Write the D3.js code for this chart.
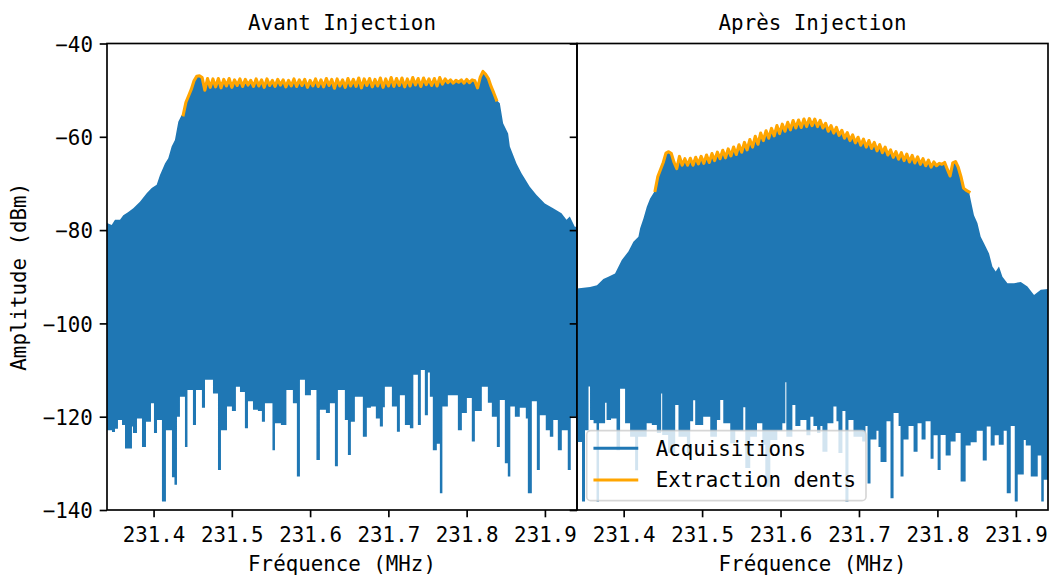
<!DOCTYPE html>
<html>
<head>
<meta charset="utf-8">
<script src="https://cdn.jsdelivr.net/npm/d3@7/dist/d3.min.js"></script>
<style>
  body { margin: 0; background: #fff; }
  svg text { font-family: "DejaVu Sans Mono", monospace; fill: #000; }
</style>
</head>
<body>
<script>
// ---- data ----
var freqDomain = [231.3405, 231.941];
var xTicks = [231.4, 231.5, 231.6, 231.7, 231.8, 231.9];
var yTicks = [-140, -120, -100, -80, -60, -40];
var dentStep = 0.00345; // spacing of the comb teeth (MHz)

// Avant injection : flancs du spectre [MHz, dBm]
var avantFlancG = [[231.3405,-78.5],[231.3465,-78.9],[231.3507,-77.8],[231.3571,-77.8],[231.3613,-76.8],[231.3673,-76.2],
  [231.3741,-75.3],[231.3826,-73.9],[231.3912,-72.1],[231.3976,-71.0],[231.4040,-70.3],[231.4082,-68.2],[231.4146,-65.7],
  [231.4188,-64.6],[231.4231,-62.1],[231.4273,-60.7],[231.4316,-56.8],[231.4359,-55.3]];
var avantFlancD = [[231.8424,-52.8],[231.8466,-57.1],[231.8530,-59.3],[231.8552,-62.1],[231.8637,-65.7],[231.8701,-67.8],
  [231.8807,-70.7],[231.8893,-72.5],[231.8999,-74.3],[231.9105,-75.3],[231.9212,-76.4],[231.9276,-77.8],[231.9318,-77.1],
  [231.9382,-79.3],[231.9410,-79.3]];
// extraction des dents (sommets), premiere dent a avantDentsF0
var avantDentsF0 = 231.4379;
var avantDents = [-55.3,-52.6,-51.2,-49.8,-48.0,-47.0,-46.9,-47.3,-50.0,-47.5,-49.4,
  -47.6,-49.3,-47.5,-49.5,-47.7,-49.1,-47.5,-49.4,-47.8,-49.0,
  -47.6,-49.2,-47.7,-48.9,-47.9,-49.2,-47.6,-49.1,-47.8,-49.4,
  -47.6,-49.0,-47.9,-49.2,-47.7,-48.9,-47.8,-49.3,-47.9,-49.1,
  -47.6,-49.2,-47.8,-49.0,-47.7,-49.4,-47.9,-49.1,-47.6,-49.2,
  -47.8,-49.3,-47.5,-49.0,-47.7,-49.6,-47.6,-49.1,-47.8,-49.4,
  -47.5,-49.1,-47.7,-49.2,-47.4,-49.5,-47.6,-49.0,-47.5,-49.3,
  -47.7,-49.1,-47.4,-49.4,-47.6,-49.1,-47.3,-49.2,-47.5,-49.0,
  -47.4,-49.3,-47.6,-49.1,-47.3,-48.9,-47.5,-49.2,-47.4,-48.8,
  -47.6,-49.0,-47.5,-49.1,-47.3,-48.7,-47.6,-48.4,-47.8,-48.5,
  -47.9,-48.3,-47.8,-48.5,-47.7,-48.4,
  -47.8,-48.0,-49.5,-47.2,-46.0,-46.6,-47.5,-49.2,-50.6,-52.1];
// bas du spectre : [debut de colonne MHz, minimum dBm]
var avantBas = [[231.3405,-122.9],[231.3469,-123.3],[231.3507,-122.6],[231.3545,-120.7],[231.3597,-121.8],[231.3635,-126.8],
  [231.3724,-122.1],[231.3737,-123.5],[231.3788,-120.4],[231.3852,-126.5],[231.3903,-121.1],[231.3967,-117.1],[231.4005,-123.5],
  [231.4044,-120.7],[231.4107,-138.2],[231.4158,-122.9],[231.4235,-133.0],[231.4267,-134.6],[231.4299,-120.0],[231.4337,-115.7],
  [231.4401,-126.5],[231.4433,-114.3],[231.4503,-121.8],[231.4542,-114.3],[231.4618,-118.1],[231.4657,-112.1],[231.4759,-115.0],
  [231.4823,-131.4],[231.4861,-122.9],[231.4938,-117.8],[231.5001,-118.8],[231.5052,-113.6],[231.5104,-114.7],[231.5167,-122.5],
  [231.5206,-116.7],[231.5270,-118.5],[231.5333,-118.8],[231.5384,-121.1],[231.5423,-117.1],[231.5519,-127.2],[231.5551,-121.4],
  [231.5627,-121.8],[231.5697,-114.3],[231.5780,-117.1],[231.5831,-132.8],[231.5870,-112.1],[231.5934,-115.4],[231.6010,-114.3],
  [231.6081,-129.3],[231.6125,-118.5],[231.6202,-119.2],[231.6253,-117.1],[231.6317,-130.6],[231.6355,-114.3],[231.6444,-120.7],
  [231.6483,-128.2],[231.6521,-121.1],[231.6572,-115.7],[231.6674,-124.3],[231.6725,-118.1],[231.6777,-117.8],[231.6840,-120.4],
  [231.6891,-122.1],[231.6930,-118.0],[231.6955,-113.6],[231.7045,-117.8],[231.7109,-123.2],[231.7147,-115.4],[231.7211,-121.8],
  [231.7275,-122.5],[231.7319,-111.0],[231.7377,-121.8],[231.7415,-110.0],[231.7466,-119.7],[231.7505,-110.5],[231.7530,-115.7],
  [231.7568,-127.2],[231.7619,-125.8],[231.7658,-136.4],[231.7690,-117.8],[231.7760,-115.4],[231.7888,-122.9],[231.7939,-119.2],
  [231.8003,-116.0],[231.8066,-125.3],[231.8105,-118.8],[231.8194,-113.6],[231.8271,-117.0],[231.8322,-120.0],[231.8386,-126.5],
  [231.8424,-116.4],[231.8488,-130.0],[231.8526,-132.8],[231.8558,-117.8],[231.8616,-120.0],[231.8679,-118.1],[231.8756,-120.4],
  [231.8782,-136.4],[231.8833,-116.7],[231.8897,-131.4],[231.8935,-119.7],[231.9011,-122.9],[231.9063,-124.3],[231.9107,-120.7],
  [231.9165,-127.2],[231.9216,-122.9],[231.9292,-131.4],[231.9330,-120.0]];

// Apres injection
var apresFlancG = [[231.3405,-92.5],[231.3571,-92.2],[231.3660,-91.8],[231.3741,-90.5],[231.3805,-90.0],[231.3890,-89.3],
  [231.3976,-86.4],[231.4060,-84.6],[231.4124,-82.5],[231.4188,-81.4],[231.4210,-79.6],[231.4252,-77.5],[231.4295,-75.0],
  [231.4337,-73.2],[231.4379,-72.1]];
var apresFlancD = [[231.8424,-73.5],[231.8466,-76.8],[231.8510,-78.5],[231.8552,-81.4],[231.8594,-82.8],[231.8658,-85.0],
  [231.8701,-87.8],[231.8743,-88.9],[231.8785,-87.8],[231.8829,-90.0],[231.8893,-91.4],[231.8977,-91.4],[231.9063,-91.1],
  [231.9148,-92.1],[231.9232,-93.9],[231.9318,-92.8],[231.9420,-92.6]];
var apresDentsF0 = 231.4401;
var apresDents = [-71.5,-68.5,-67.0,-65.5,-63.5,-63.2,-63.6,-65.5,-66.8,-64.2,-66.1,-64.7,-66.1,
  -64.6,-66.1,-64.4,-65.8,-64.2,-65.7,-63.9,-65.5,-63.6,-65.1,
  -63.3,-64.7,-62.9,-64.5,-62.6,-64.1,-62.2,-63.8,-61.7,-63.3,
  -61.2,-62.8,-60.6,-62.2,-59.9,-61.6,-59.2,-60.8,-58.7,-60.3,
  -58.2,-59.8,-57.6,-59.3,-57.3,-58.8,-56.9,-58.5,-56.5,-58.1,
  -56.4,-58.0,-56.2,-57.8,-56.1,-57.6,-56.2,-57.8,-56.5,-58.1,
  -57.1,-58.8,-57.6,-59.2,-58.0,-59.7,-58.6,-60.3,-59.1,-60.8,
  -59.6,-61.3,-60.1,-61.8,-60.5,-62.2,-60.8,-62.5,-61.2,-63.0,
  -61.7,-63.4,-62.2,-63.9,-62.8,-64.4,-63.2,-64.8,-63.4,-65.1,
  -63.7,-65.4,-64.0,-65.6,-64.3,-65.9,-64.7,-66.2,-65.0,-66.5,
  -65.4,-66.2,-65.7,-65.9,-65.5,-67.0,-68.4,-65.6,-65.3,-66.5,-68.5,-71.0,-71.5,-71.8];
var apresBas = [[231.3405,-125.4],[231.3469,-138.2],[231.3507,-122.9],[231.3552,-113.5],[231.3571,-120.7],[231.3616,-121.4],
  [231.3654,-138.2],[231.3686,-121.4],[231.3763,-117.0],[231.3782,-120.7],[231.3839,-120.4],[231.3909,-127.2],[231.3954,-114.0],
  [231.4018,-121.4],[231.4082,-124.3],[231.4146,-131.5],[231.4184,-124.3],[231.4293,-121.4],[231.4359,-121.8],[231.4423,-123.5],
  [231.4478,-115.0],[231.4491,-123.9],[231.4567,-127.8],[231.4657,-117.5],[231.4699,-124.3],[231.4806,-127.8],[231.4848,-121.0],
  [231.4886,-116.5],[231.4912,-121.8],[231.5014,-120.0],[231.5104,-124.3],[231.5189,-120.7],[231.5231,-116.4],[231.5270,-121.4],
  [231.5359,-125.7],[231.5423,-123.0],[231.5525,-118.0],[231.5551,-131.0],[231.5614,-124.3],[231.5700,-121.4],[231.5768,-126.0],
  [231.5806,-135.0],[231.5870,-125.0],[231.5959,-123.0],[231.6023,-121.4],[231.6061,-112.6],[231.6074,-124.3],[231.6151,-117.5],
  [231.6189,-122.0],[231.6253,-120.7],[231.6330,-124.0],[231.6381,-120.0],[231.6419,-122.0],[231.6466,-123.5],[231.6508,-122.0],
  [231.6534,-127.5],[231.6598,-121.4],[231.6674,-117.8],[231.6713,-121.0],[231.6738,-127.8],[231.6789,-118.8],[231.6827,-138.2],
  [231.6866,-120.7],[231.6930,-124.3],[231.7041,-125.3],[231.7083,-122.0],[231.7109,-134.3],[231.7147,-124.9],[231.7223,-123.0],
  [231.7249,-126.5],[231.7275,-129.7],[231.7351,-121.0],[231.7402,-137.5],[231.7441,-119.2],[231.7505,-122.0],[231.7530,-132.8],
  [231.7568,-124.9],[231.7632,-122.0],[231.7696,-127.5],[231.7747,-121.4],[231.7798,-124.9],[231.7849,-121.0],[231.7913,-129.0],
  [231.7951,-124.0],[231.8003,-131.4],[231.8041,-123.9],[231.8105,-128.3],[231.8169,-125.3],[231.8232,-123.5],[231.8296,-133.9],
  [231.8360,-126.2],[231.8424,-125.5],[231.8501,-123.0],[231.8578,-129.4],[231.8629,-122.1],[231.8679,-126.2],[231.8730,-124.0],
  [231.8782,-126.0],[231.8845,-123.0],[231.8884,-136.4],[231.8935,-122.0],[231.8986,-138.2],[231.9024,-132.4],[231.9101,-125.0],
  [231.9127,-126.2],[231.9190,-132.8],[231.9279,-128.3],[231.9324,-138.2],[231.9356,-133.5]];

var titles = ['Avant Injection', 'Après Injection'];
var legendLabels = ['Acquisitions', 'Extraction dents'];

// ---- layout ----
var W = 1053, H = 575;
var fs = 20.8, tickLen = 7.3, spineW = 1.67;
var plotTop = 43.5, plotBottom = 510;
var blue = '#1f77b4', orange = '#ffa500';
var floorDb = -110;

var svg = d3.select('body').append('svg').attr('width', W).attr('height', H);
var defs = svg.append('defs');

var y = d3.scaleLinear().domain([-140, -40]).range([plotBottom, plotTop]);

function panel(idx, x0, x1, flancG, dentsF0, dents, flancD, bas, withLabels) {
  var x = d3.scaleLinear().domain(freqDomain).range([x0, x1]);
  var g = svg.append('g');

  defs.append('clipPath').attr('id', 'clip' + idx)
    .append('rect').attr('x', x0).attr('y', plotTop).attr('width', x1 - x0).attr('height', plotBottom - plotTop);
  var body = g.append('g').attr('clip-path', 'url(#clip' + idx + ')');

  var dentPts = dents.map(function(v, i) { return [dentsF0 + i * dentStep, v]; });
  var topPts = flancG.concat(dentPts).concat(flancD);

  // corps du spectre (enveloppe haute jusqu'au plancher)
  body.append('path').datum(topPts)
    .attr('d', d3.area().x(function(d) { return x(d[0]); }).y0(y(floorDb)).y1(function(d) { return y(d[1]); }))
    .attr('fill', blue);

  // bas du spectre en marches (minima), un seul chemin
  var basPts = bas.concat([[freqDomain[1] + 0.01, bas[bas.length - 1][1]]]);
  body.append('path').datum(basPts)
    .attr('d', d3.area().curve(d3.curveStepAfter)
      .x(function(d) { return x(d[0]); })
      .y0(y(floorDb) - 2)
      .y1(function(d) { return y(d[1]); }))
    .attr('fill', blue);

  // extraction des dents
  body.append('path').datum(dentPts)
    .attr('d', d3.line().x(function(d) { return x(d[0]); }).y(function(d) { return y(d[1]); }))
    .attr('fill', 'none').attr('stroke', orange).attr('stroke-width', 3.1)
    .attr('stroke-linejoin', 'round').attr('stroke-linecap', 'square');

  // axes
  var xAxis = g.append('g').attr('transform', 'translate(0,' + plotBottom + ')')
    .call(d3.axisBottom(x).tickValues(xTicks).tickSize(tickLen).tickPadding(9.5).tickFormat(d3.format('.1f')));
  var yAxis = g.append('g').attr('transform', 'translate(' + x0 + ',0)')
    .call(d3.axisLeft(y).tickValues(yTicks).tickSize(tickLen).tickPadding(6.8)
      .tickFormat(withLabels ? d3.format('d') : function() { return ''; }));
  [xAxis, yAxis].forEach(function(a) {
    a.select('.domain').remove();
    a.selectAll('line').attr('stroke', '#000').attr('stroke-width', spineW);
    a.selectAll('text').attr('font-size', fs).attr('font-family', '"DejaVu Sans Mono", monospace');
  });
  yAxis.selectAll('text').attr('dy', '0.37em');

  // cadre
  g.append('rect').attr('x', x0).attr('y', plotTop).attr('width', x1 - x0).attr('height', plotBottom - plotTop)
    .attr('fill', 'none').attr('stroke', '#000').attr('stroke-width', spineW);

  // titre + label x
  g.append('text').attr('x', (x0 + x1) / 2).attr('y', 30).attr('text-anchor', 'middle')
    .attr('font-size', fs).text(titles[idx]);
  g.append('text').attr('x', (x0 + x1) / 2).attr('y', 571).attr('text-anchor', 'middle')
    .attr('font-size', fs).text('Fréquence (MHz)');
  return g;
}

panel(0, 107, 577, avantFlancG, avantDentsF0, avantDents, avantFlancD, avantBas, true);
panel(1, 577, 1048, apresFlancG, apresDentsF0, apresDents, apresFlancD, apresBas, false);

// label y
svg.append('text').attr('transform', 'translate(26,' + ((plotTop + plotBottom) / 2) + ') rotate(-90)')
  .attr('text-anchor', 'middle').attr('font-size', fs).text('Amplitude (dBm)');

// legende
var leg = svg.append('g').attr('transform', 'translate(586.7,430.7)');
leg.append('rect').attr('width', 279.3).attr('height', 70).attr('rx', 4).attr('ry', 4)
  .attr('fill', '#fff').attr('fill-opacity', 0.8)
  .attr('stroke', '#cccccc').attr('stroke-opacity', 0.8).attr('stroke-width', 1.67);
[blue, orange].forEach(function(c, i) {
  var ly = 17.6 + i * 31.7;
  leg.append('line').attr('x1', 8.3).attr('x2', 50).attr('y1', ly).attr('y2', ly)
    .attr('stroke', c).attr('stroke-width', 3.1).attr('stroke-linecap', 'square');
  leg.append('text').attr('x', 69).attr('y', ly + 7.4).attr('font-size', fs).text(legendLabels[i]);
});
</script>
</body>
</html>
